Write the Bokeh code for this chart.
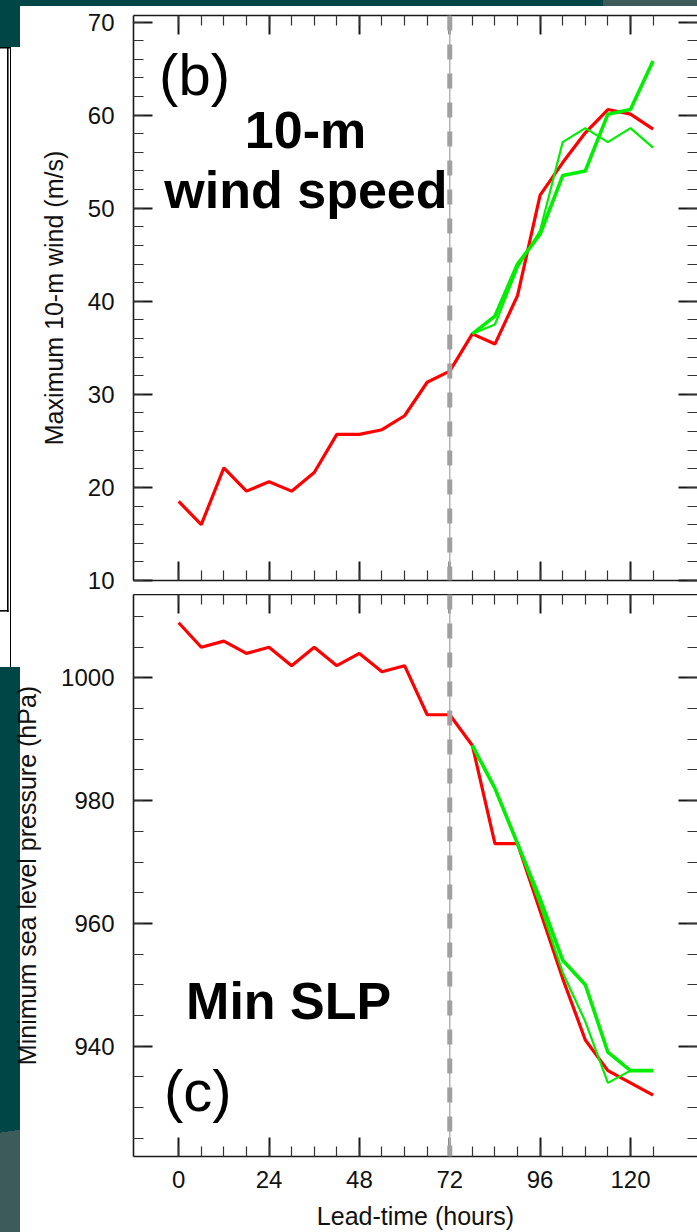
from bokeh.plotting import figure
from bokeh.models import (Range1d, LinearAxis, FixedTicker, Span, Label,
                          CustomJSTickFormatter, Column)
from bokeh.embed import file_html
from bokeh.resources import INLINE

# ---- data -----------------------------------------------------------------
lead_hours = list(range(0, 127, 6))          # control run, 0-126 h
fcst_hours = list(range(78, 127, 6))         # sensitivity runs, 78-126 h

wind_ctrl = [18.5, 16.0, 22.1, 19.6, 20.6, 19.6, 21.6, 25.7, 25.7, 26.2, 27.7,
             31.3, 32.5, 36.5, 35.4, 40.6, 51.4, 54.9, 58.1, 60.6, 60.1, 58.5]
wind_exp_a = [36.5, 38.4, 44.0, 47.2, 53.5, 54.0, 60.1, 60.6, 65.8]   # thick green
wind_exp_b = [36.5, 37.5, 43.6, 47.6, 57.1, 58.6, 57.1, 58.6, 56.5]   # thin green

slp_ctrl = [1009, 1005, 1006, 1004, 1005, 1002, 1005, 1002, 1004, 1001, 1002,
            994, 994, 989, 973, 973, 962, 951, 941, 936, 934, 932]
slp_exp_a = [989, 982, 973, 964, 954, 950, 939, 936, 936]
slp_exp_b = [989, 982, 973, 963, 952, 944, 934, 936, 936]

x_major = [0, 24, 48, 72, 96, 120]
x_minor = list(range(0, 127, 6))
wind_major = [10, 20, 30, 40, 50, 60, 70]
wind_minor = list(range(10, 71, 2))
slp_major = [940, 960, 980, 1000]
slp_minor = list(range(925, 1011, 5))

FONT = "Liberation Sans"
RED = "#ff0000"
GREEN = "#00ee00"
INK = "#1a1a1a"
TEAL = "#014646"
TEAL_LIGHT = "#3d5b5b"


def style_axis(ax, major, minor, labelled, label_standoff=19):
    ax.ticker = FixedTicker(ticks=major, minor_ticks=minor)
    ax.major_tick_in = 19
    ax.major_tick_out = 0
    ax.minor_tick_in = 10
    ax.minor_tick_out = 0
    ax.axis_line_color = INK
    ax.axis_line_width = 1.6
    ax.major_tick_line_color = INK
    ax.major_tick_line_width = 2
    ax.minor_tick_line_color = "#333333"
    ax.minor_tick_line_width = 1.2
    if labelled:
        ax.major_label_text_font = FONT
        ax.major_label_text_font_size = "24px"
        ax.major_label_text_color = "#111111"
        ax.major_label_standoff = label_standoff
        ax.axis_label_text_font = FONT
        ax.axis_label_text_font_size = "25px"
        ax.axis_label_text_font_style = "normal"
        ax.axis_label_text_color = "#111111"
    else:
        ax.formatter = CustomJSTickFormatter(code="return ''")
        ax.major_label_text_font_size = "1px"
        ax.major_label_standoff = 0


def make_panel(height, y_lo, y_hi, top, bottom):
    p = figure(width=697, height=height,
               x_range=Range1d(-12, 137.8), y_range=Range1d(y_lo, y_hi),
               output_backend="svg", toolbar_location=None)
    p.min_border = 0
    p.min_border_left = 133
    p.min_border_right = 0
    p.min_border_top = top
    p.min_border_bottom = bottom
    p.border_fill_color = None
    p.background_fill_color = "white"
    p.outline_line_color = None
    p.xgrid.visible = False
    p.ygrid.visible = False
    # lead-time 72 h marker
    p.add_layout(Span(location=72, dimension="height", line_color="#b4b4b4",
                      line_width=1.5))
    p.add_layout(Span(location=72, dimension="height", line_color="#a0a0a0",
                      line_width=5, line_dash="15 14"))
    return p


def add_mirror_axes(p, x_ticks, x_min, y_ticks, y_min):
    top_ax = LinearAxis()
    style_axis(top_ax, x_ticks, x_min, False)
    p.add_layout(top_ax, "above")
    right_ax = LinearAxis()
    style_axis(right_ax, y_ticks, y_min, False)
    right_ax.axis_line_color = None
    p.add_layout(right_ax, "right")


def big_label(p, x, y, text, size, bold, align):
    p.add_layout(Label(x=x, y=y, text=text, text_font=FONT,
                       text_font_size=size,
                       text_font_style="bold" if bold else "normal",
                       text_color="#000000", text_align=align,
                       text_baseline="alphabetic"))


# ---- (b) maximum 10-m wind ---------------------------------------------------
p1 = make_panel(594, 10, 70.7, 15, 14)
style_axis(p1.xaxis[0], x_major, x_minor, False)
style_axis(p1.yaxis[0], wind_major, wind_minor, True)
p1.yaxis[0].axis_label = "Maximum 10-m wind (m/s)"
p1.yaxis[0].axis_label_standoff = 17
add_mirror_axes(p1, x_major, x_minor, wind_major, wind_minor)

p1.line(lead_hours, wind_ctrl, line_color=RED, line_width=3.2)
p1.line(fcst_hours, wind_exp_b, line_color=GREEN, line_width=2.2)
p1.line(fcst_hours, wind_exp_a, line_color=GREEN, line_width=3.6)

big_label(p1, -5.2, 64.4, "(b)", "58px", False, "left")
big_label(p1, 33.7, 58.4, "10-m", "52px", True, "center")
big_label(p1, 33.8, 52.0, "wind speed", "52px", True, "center")

# ---- (c) minimum sea level pressure -----------------------------------------
p2 = make_panel(638, 922, 1013.6, 0, 76)
style_axis(p2.xaxis[0], x_major, x_minor, True, label_standoff=14)
p2.xaxis[0].axis_label = "Lead-time (hours)"
p2.xaxis[0].axis_label_standoff = 11
style_axis(p2.yaxis[0], slp_major, slp_minor, True)
p2.yaxis[0].axis_label = "Minimum sea level pressure (hPa)"
p2.yaxis[0].axis_label_standoff = 17
add_mirror_axes(p2, x_major, x_minor, slp_major, slp_minor)

p2.line(lead_hours, slp_ctrl, line_color=RED, line_width=3.2)
p2.line(fcst_hours, slp_exp_b, line_color=GREEN, line_width=2.2)
p2.line(fcst_hours, slp_exp_a, line_color=GREEN, line_width=3.6)

big_label(p2, 29.2, 947.4, "Min SLP", "52px", True, "center")
big_label(p2, -3.9, 932.7, "(c)", "58px", False, "left")

# ---- page backdrop: slide border strips behind the panels -------------------
backdrop = ", ".join([
    "linear-gradient(#000,#000) 0px 47px / 11px 1.5px no-repeat",
    "linear-gradient(#000,#000) 7px 47px / 1.6px 565px no-repeat",
    "linear-gradient(#000,#000) 0px 610px / 8.5px 1.6px no-repeat",
    "linear-gradient(#000,#000) 10px 47px / 1.2px 620px no-repeat",
    f"linear-gradient({TEAL},{TEAL}) 0px 0px / 20px 47px no-repeat",
    f"linear-gradient(172deg, {TEAL} 0 82%, {TEAL_LIGHT} 82% 100%) 0px 667px / 20px 565px no-repeat",
    f"linear-gradient({TEAL},{TEAL}) 0px 0px / 603px 6px no-repeat",
    f"linear-gradient({TEAL_LIGHT},{TEAL_LIGHT}) 603px 0px / 94px 6px no-repeat",
    "#ffffff",
])

layout = Column(children=[p1, p2], spacing=0, styles={"background": backdrop})

with open("out.html", "w") as f:
    f.write(file_html(layout, INLINE))
